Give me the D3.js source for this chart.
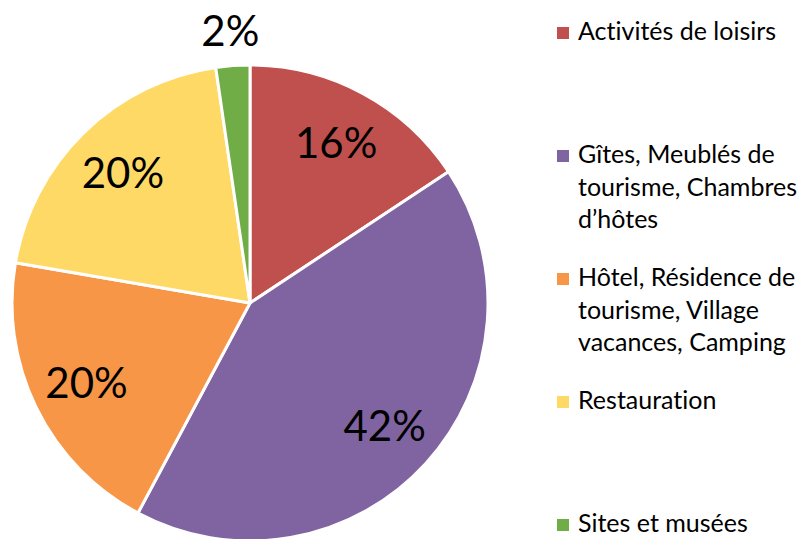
<!DOCTYPE html>
<html>
<head>
<meta charset="utf-8">
<script src="https://cdn.jsdelivr.net/npm/d3@7"></script>
<style>
  body { margin: 0; background: #fff; }
  svg { display: block; font-family: Lato, "Open Sans", sans-serif; font-variant-ligatures: none; }
</style>
</head>
<body>
<svg id="chart" width="812" height="539"></svg>
<script>
// categories and shares (%)
var categories = ["Activités de loisirs", "Gîtes, Meublés de tourisme, Chambres d’hôtes",
    "Hôtel, Résidence de tourisme, Village vacances, Camping", "Restauration", "Sites et musées"];
var values = [15.7, 42.1, 19.9, 20.0, 2.3];
var pctLabels = ["16%", "42%", "20%", "20%", "2%"];
// legend text as it wraps in the picture
var legendLines = [
    ["Activités de loisirs"],
    ["Gîtes, Meublés de", "tourisme, Chambres", "d’hôtes"],
    ["Hôtel, Résidence de", "tourisme, Village", "vacances, Camping"],
    ["Restauration"],
    ["Sites et musées"]
];
var colors = ["#c0504d", "#8064a2", "#f79646", "#ffd966", "#70ad47"];

var svg = d3.select("#chart");
var cx = 250, cy = 303, radius = 238;

var data = categories.map(function (c, i) {
    return { name: c, value: values[i], label: pctLabels[i], color: colors[i], lines: legendLines[i] };
});

var pie = d3.pie()
    .sort(null)
    .value(function (d) { return d.value; });

var arc = d3.arc().innerRadius(0).outerRadius(radius);
var labelArc = d3.arc().innerRadius(182).outerRadius(182);
var outerLabelArc = d3.arc().innerRadius(273).outerRadius(273);

var g = svg.append("g")
    .attr("transform", "translate(" + cx + "," + cy + ")");

var slices = g.selectAll(null)
    .data(pie(data))
    .enter();

slices.append("path")
    .attr("d", arc)
    .attr("fill", function (d) { return d.data.color; })
    .attr("stroke", "#fff")
    .attr("stroke-width", 3)
    .attr("stroke-linejoin", "round");

slices.append("text")
    .attr("transform", function (d) {
        // the small slice gets its label outside the pie
        var a = d.data.value < 5 ? outerLabelArc : labelArc;
        return "translate(" + a.centroid(d) + ")";
    })
    .attr("text-anchor", "middle")
    .attr("dy", "0.36em")
    .attr("font-size", 42)
    .attr("fill", "#000")
    .text(function (d) { return d.data.label; });

// legend
var legend = svg.selectAll(".legend")
    .data(data)
    .enter().append("g")
    .attr("class", "legend")
    .attr("transform", function (d, i) { return "translate(557," + (40 + i * 123) + ")"; });

legend.append("rect")
    .attr("x", 0)
    .attr("y", -13)
    .attr("width", 12)
    .attr("height", 12)
    .attr("fill", function (d) { return d.color; });

legend.append("text")
    .attr("x", 21)
    .attr("font-size", 25)
    .attr("fill", "#000")
    .selectAll("tspan")
    .data(function (d) { return d.lines; })
    .enter().append("tspan")
    .attr("x", 21)
    .attr("y", function (d, i) { return i * 32.5; })
    .text(function (d) { return d; });
</script>
</body>
</html>
